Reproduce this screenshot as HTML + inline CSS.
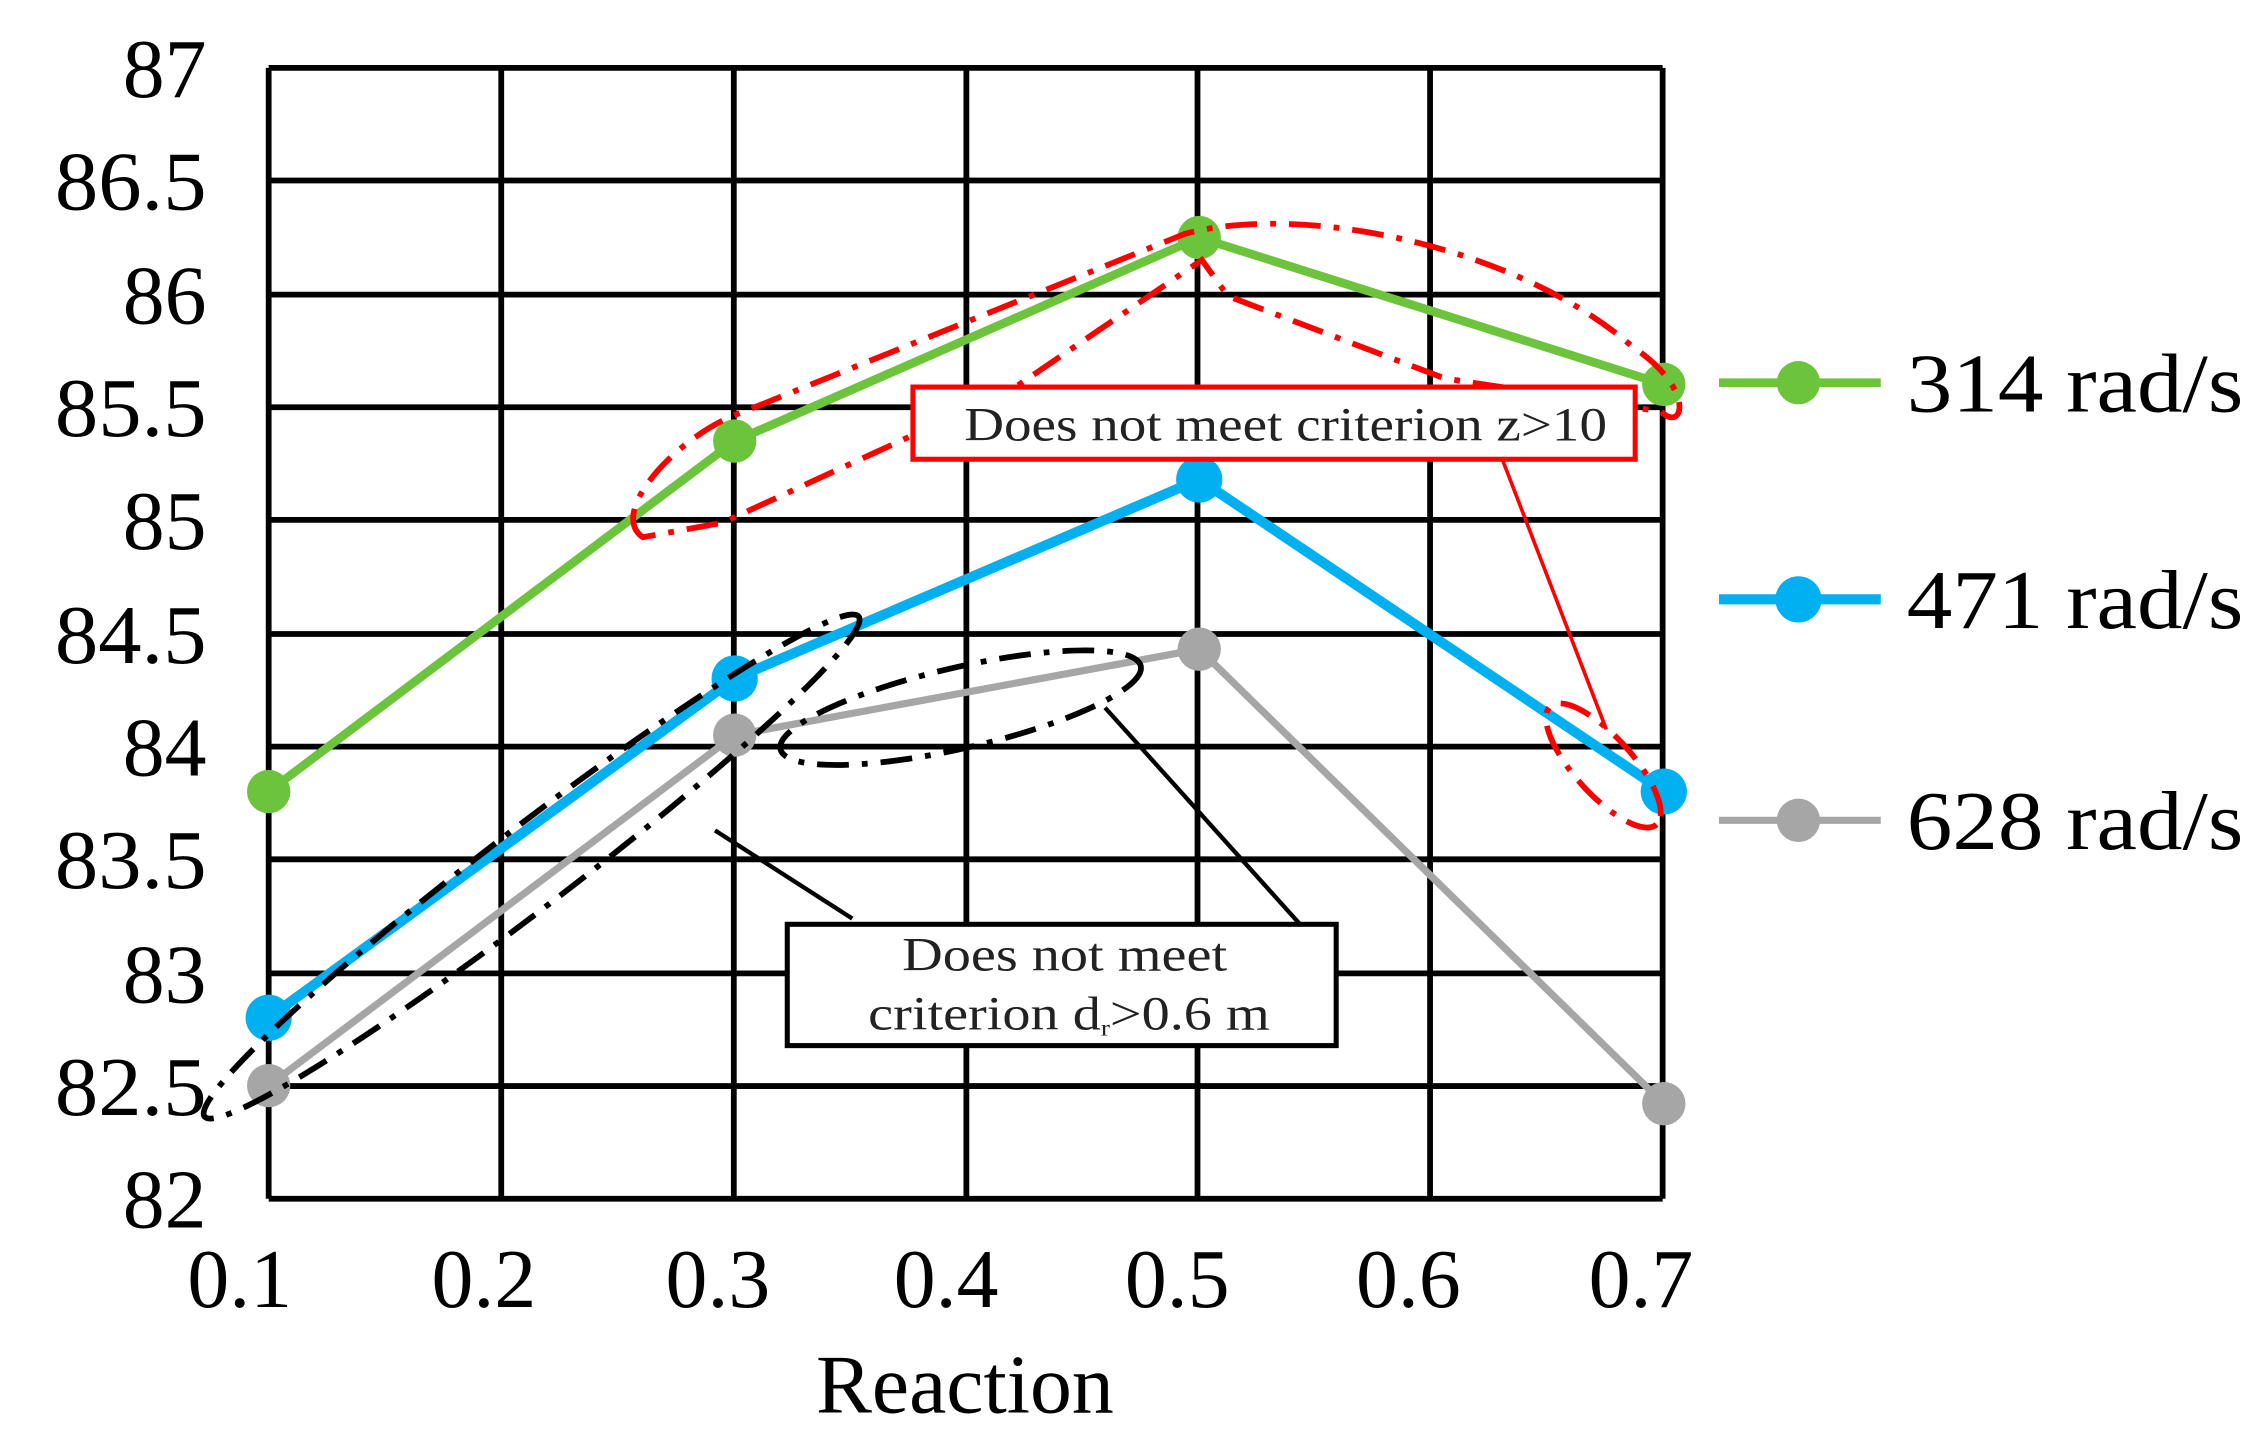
<!DOCTYPE html>
<html><head><style>html,body{margin:0;padding:0;background:#fff;}svg{display:block}</style></head>
<body>
<svg width="2265" height="1450" viewBox="0 0 1568 1004" preserveAspectRatio="none" xmlns="http://www.w3.org/2000/svg" font-family="'Liberation Serif', serif">
<rect width="1568" height="1004" fill="#fff"/>
<g stroke="#000" stroke-width="4">
<line x1="186" y1="47" x2="1151" y2="47"/><line x1="186" y1="125" x2="1151" y2="125"/><line x1="186" y1="204" x2="1151" y2="204"/><line x1="186" y1="282" x2="1151" y2="282"/><line x1="186" y1="360" x2="1151" y2="360"/><line x1="186" y1="439" x2="1151" y2="439"/><line x1="186" y1="517" x2="1151" y2="517"/><line x1="186" y1="595" x2="1151" y2="595"/><line x1="186" y1="674" x2="1151" y2="674"/><line x1="186" y1="752" x2="1151" y2="752"/><line x1="186" y1="830" x2="1151" y2="830"/>
<line x1="186" y1="47" x2="186" y2="830"/><line x1="347" y1="47" x2="347" y2="830"/><line x1="508" y1="47" x2="508" y2="830"/><line x1="669" y1="47" x2="669" y2="830"/><line x1="829" y1="47" x2="829" y2="830"/><line x1="990" y1="47" x2="990" y2="830"/><line x1="1151" y1="47" x2="1151" y2="830"/>
</g>
<g font-size="58" text-anchor="end" fill="#000">
<text x="143" y="67">87</text><text x="143" y="145" textLength="105" lengthAdjust="spacingAndGlyphs">86.5</text><text x="143" y="224">86</text><text x="143" y="302" textLength="105" lengthAdjust="spacingAndGlyphs">85.5</text><text x="143" y="380">85</text><text x="143" y="459" textLength="105" lengthAdjust="spacingAndGlyphs">84.5</text><text x="143" y="537">84</text><text x="143" y="615" textLength="105" lengthAdjust="spacingAndGlyphs">83.5</text><text x="143" y="694">83</text><text x="143" y="772" textLength="105" lengthAdjust="spacingAndGlyphs">82.5</text><text x="143" y="850">82</text>
</g>
<g font-size="58" text-anchor="middle" fill="#000">
<text x="166" y="905">0.1</text><text x="335" y="905">0.2</text><text x="497" y="905">0.3</text><text x="655" y="905">0.4</text><text x="815" y="905">0.5</text><text x="975" y="905">0.6</text><text x="1136" y="905">0.7</text>
<text x="668" y="978">Reaction</text>
</g>
<polyline points="186,704.7 508.6,469.8 830.2,332 1151.8,548.1" fill="none" stroke="#00b0f0" stroke-width="7"/>
<polyline points="186,751.7 508.6,509 830.2,449.5 1151.8,764.2" fill="none" stroke="#a6a6a6" stroke-width="5"/>
<polyline points="186,548.1 508.6,305.4 830.2,164.5 1151.8,266.2" fill="none" stroke="#6cc43c" stroke-width="6"/>
<g fill="#6cc43c"><circle cx="186" cy="548.1" r="15"/><circle cx="508.6" cy="305.4" r="15"/><circle cx="830.2" cy="164.5" r="15"/><circle cx="1151.8" cy="266.2" r="15"/></g>
<g fill="#00b0f0"><circle cx="186" cy="704.7" r="16"/><circle cx="508.6" cy="469.8" r="16"/><circle cx="830.2" cy="332" r="16"/><circle cx="1151.8" cy="548.1" r="16"/></g>
<g fill="#a6a6a6"><circle cx="186" cy="751.7" r="15"/><circle cx="508.6" cy="509" r="15"/><circle cx="830.2" cy="449.5" r="15"/><circle cx="1151.8" cy="764.2" r="15"/></g>
<g fill="none" stroke="#f00" stroke-width="4" stroke-dasharray="22,9,4,9">
<path d="M445,372 C420,355 470,300 515,285 L820,162 C900,140 1050,170 1130,240 C1175,270 1165,300 1150,285 L1000,262 L850,205 L832,180 L700,270 L500,362 Z"/>
<ellipse cx="1110" cy="530" rx="55" ry="20" transform="rotate(48 1110 530)"/>
</g>
<line x1="1040" y1="318" x2="1112" y2="505" stroke="#f00" stroke-width="2.5"/>
<rect x="632" y="268" width="500" height="50" fill="#fff" stroke="#f00" stroke-width="3.5"/>
<text x="890" y="305" font-size="33" text-anchor="middle" fill="#222" textLength="445" lengthAdjust="spacingAndGlyphs">Does not meet criterion z&gt;10</text>
<g fill="none" stroke="#000" stroke-width="4" stroke-dasharray="22,9,4,9">
<ellipse cx="368" cy="600" rx="285" ry="28" transform="rotate(-37.4 368 600)"/>
<ellipse cx="665" cy="490" rx="128" ry="28" transform="rotate(-13 665 490)"/>
</g>
<line x1="590" y1="636" x2="495" y2="575" stroke="#000" stroke-width="3"/>
<line x1="900" y1="640" x2="765" y2="490" stroke="#000" stroke-width="3"/>
<rect x="545" y="640" width="380" height="84" fill="#fff" stroke="#000" stroke-width="3.5"/>
<text x="737" y="672" font-size="33" text-anchor="middle" fill="#222" textLength="225" lengthAdjust="spacingAndGlyphs">Does not meet</text>
<text x="740" y="713" font-size="33" text-anchor="middle" fill="#222" textLength="278" lengthAdjust="spacingAndGlyphs">criterion d<tspan font-size="16" dy="4">r</tspan><tspan dy="-4">&gt;0.6 m</tspan></text>
<line x1="1190" y1="265" x2="1302" y2="265" stroke="#6cc43c" stroke-width="6"/><circle cx="1245" cy="265" r="15" fill="#6cc43c"/>
<line x1="1190" y1="415" x2="1302" y2="415" stroke="#00b0f0" stroke-width="7"/><circle cx="1245" cy="415" r="16" fill="#00b0f0"/>
<line x1="1190" y1="568" x2="1302" y2="568" stroke="#a6a6a6" stroke-width="5"/><circle cx="1245" cy="568" r="15" fill="#a6a6a6"/>
<g font-size="58" fill="#000">
<text x="1320" y="285" textLength="233" lengthAdjust="spacingAndGlyphs">314 rad/s</text>
<text x="1320" y="435" textLength="233" lengthAdjust="spacingAndGlyphs">471 rad/s</text>
<text x="1320" y="588" textLength="233" lengthAdjust="spacingAndGlyphs">628 rad/s</text>
</g>
</svg>
</body></html>
